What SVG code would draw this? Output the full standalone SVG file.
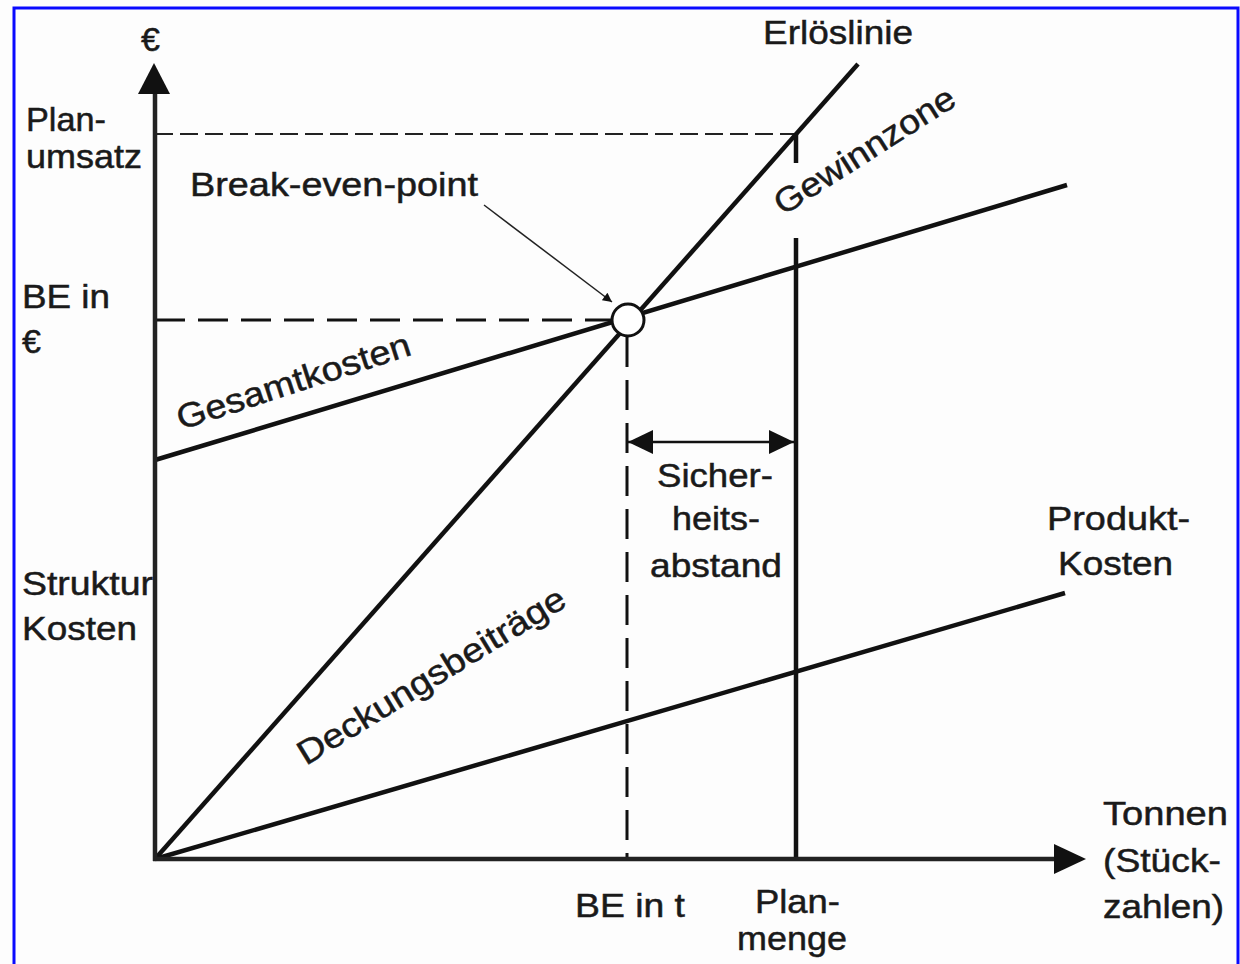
<svg xmlns="http://www.w3.org/2000/svg" width="1240" height="964" viewBox="0 0 1240 964">
  <style>
    .t { font-family: "Liberation Sans", Arial, sans-serif; font-size: 34px; fill: #1a1a1a; stroke: #1a1a1a; stroke-width: 0.5; }
    .ln { stroke: #111; stroke-width: 4.5; fill: none; stroke-linecap: butt; }
    .axis { stroke: #222; stroke-width: 4.5; fill: none; }
    .dash { stroke: #111; stroke-width: 3; fill: none; stroke-dasharray: 30 13; }
    .dash-thin { stroke: #222; stroke-width: 2; fill: none; stroke-dasharray: 18 7; }
  </style>
  <defs>
    <marker id="head" viewBox="0 0 10 10" refX="10" refY="5" markerWidth="10" markerHeight="9.2" markerUnits="userSpaceOnUse" orient="auto">
      <path d="M0,0 L10,5 L0,10 Z" fill="#111"/>
    </marker>
    <marker id="dim" viewBox="0 0 25 24" refX="25" refY="12" markerWidth="25" markerHeight="24" markerUnits="userSpaceOnUse" orient="auto-start-reverse">
      <path d="M0,0 L25,12 L0,24 Z" fill="#111"/>
    </marker>
  </defs>

  <rect width="1240" height="964" fill="#fdfdfd"/>
  <!-- frame -->
  <path d="M14,964 V8 H1238 V964" fill="none" stroke="#0a0aff" stroke-width="3"/>

  <!-- axis labels drawn under the axes -->
  <g id="labels-y">
    <text class="t" x="141" y="51">€</text>
    <text class="t" x="26" y="131" textLength="80" lengthAdjust="spacingAndGlyphs">Plan-</text>
    <text class="t" x="26" y="168" textLength="116" lengthAdjust="spacingAndGlyphs">umsatz</text>
    <text class="t" x="22" y="308" textLength="88" lengthAdjust="spacingAndGlyphs">BE in</text>
    <text class="t" x="22" y="353">€</text>
    <text class="t" x="22" y="595" textLength="131" lengthAdjust="spacingAndGlyphs">Struktur</text>
    <text class="t" x="22" y="640" textLength="115" lengthAdjust="spacingAndGlyphs">Kosten</text>
  </g>

  <g id="connectors">
    <!-- guide lines -->
    <line class="dash-thin" x1="155" y1="134" x2="796" y2="134"/>
    <line class="dash" x1="155" y1="320" x2="612" y2="320"/>
    <line class="dash" x1="627" y1="337" x2="627" y2="859"/>
    <!-- planned quantity -->
    <line class="ln" x1="796" y1="134" x2="796" y2="163"/>
    <line class="ln" x1="796" y1="238" x2="796" y2="859"/>
    <!-- revenue, total cost, product cost -->
    <line class="ln" x1="155" y1="859" x2="858" y2="64"/>
    <line class="ln" x1="155" y1="460" x2="1067" y2="185"/>
    <line class="ln" x1="155" y1="859" x2="1065" y2="593"/>
    <!-- safety margin -->
    <line x1="628" y1="442" x2="794" y2="442" stroke="#111" stroke-width="2.5" marker-start="url(#dim)" marker-end="url(#dim)"/>
    <!-- pointer to break-even -->
    <line x1="484" y1="205" x2="612" y2="302" stroke="#222" stroke-width="1.5" marker-end="url(#head)"/>
  </g>

  <g id="axes">
    <line class="axis" x1="155" y1="861" x2="155" y2="90"/>
    <path d="M154,63 L170,94 L138,94 Z" fill="#111"/>
    <line class="axis" x1="153" y1="859" x2="1058" y2="859"/>
    <path d="M1086,859 L1054,844 L1054,874 Z" fill="#111"/>
  </g>

  <g id="break-even">
    <circle cx="628" cy="320" r="16" fill="#fff" stroke="#111" stroke-width="3"/>
  </g>

  <g id="labels">
    <text class="t" x="190" y="196" textLength="288" lengthAdjust="spacingAndGlyphs">Break-even-point</text>
    <text class="t" x="763" y="44" textLength="150" lengthAdjust="spacingAndGlyphs">Erlöslinie</text>
    <text class="t" transform="translate(181,430) rotate(-18)" textLength="244" lengthAdjust="spacingAndGlyphs">Gesamtkosten</text>
    <text class="t" transform="translate(783,216) rotate(-32.5)" textLength="208" lengthAdjust="spacingAndGlyphs">Gewinnzone</text>
    <text class="t" transform="translate(306,766) rotate(-31.5)" textLength="308" lengthAdjust="spacingAndGlyphs">Deckungsbeiträge</text>
    <text class="t" x="657" y="487" textLength="116" lengthAdjust="spacingAndGlyphs">Sicher-</text>
    <text class="t" x="672" y="530" textLength="88" lengthAdjust="spacingAndGlyphs">heits-</text>
    <text class="t" x="650" y="577" textLength="132" lengthAdjust="spacingAndGlyphs">abstand</text>
    <text class="t" x="1047" y="530" textLength="143" lengthAdjust="spacingAndGlyphs">Produkt-</text>
    <text class="t" x="1058" y="575" textLength="115" lengthAdjust="spacingAndGlyphs">Kosten</text>
  </g>

  <g id="labels-x">
    <text class="t" x="1103" y="825" textLength="125" lengthAdjust="spacingAndGlyphs">Tonnen</text>
    <text class="t" x="1103" y="872" textLength="118" lengthAdjust="spacingAndGlyphs">(Stück-</text>
    <text class="t" x="1103" y="918" textLength="121" lengthAdjust="spacingAndGlyphs">zahlen)</text>
    <text class="t" x="575" y="917" textLength="110" lengthAdjust="spacingAndGlyphs">BE in t</text>
    <text class="t" x="755" y="913" textLength="85" lengthAdjust="spacingAndGlyphs">Plan-</text>
    <text class="t" x="737" y="950" textLength="110" lengthAdjust="spacingAndGlyphs">menge</text>
  </g>
</svg>
